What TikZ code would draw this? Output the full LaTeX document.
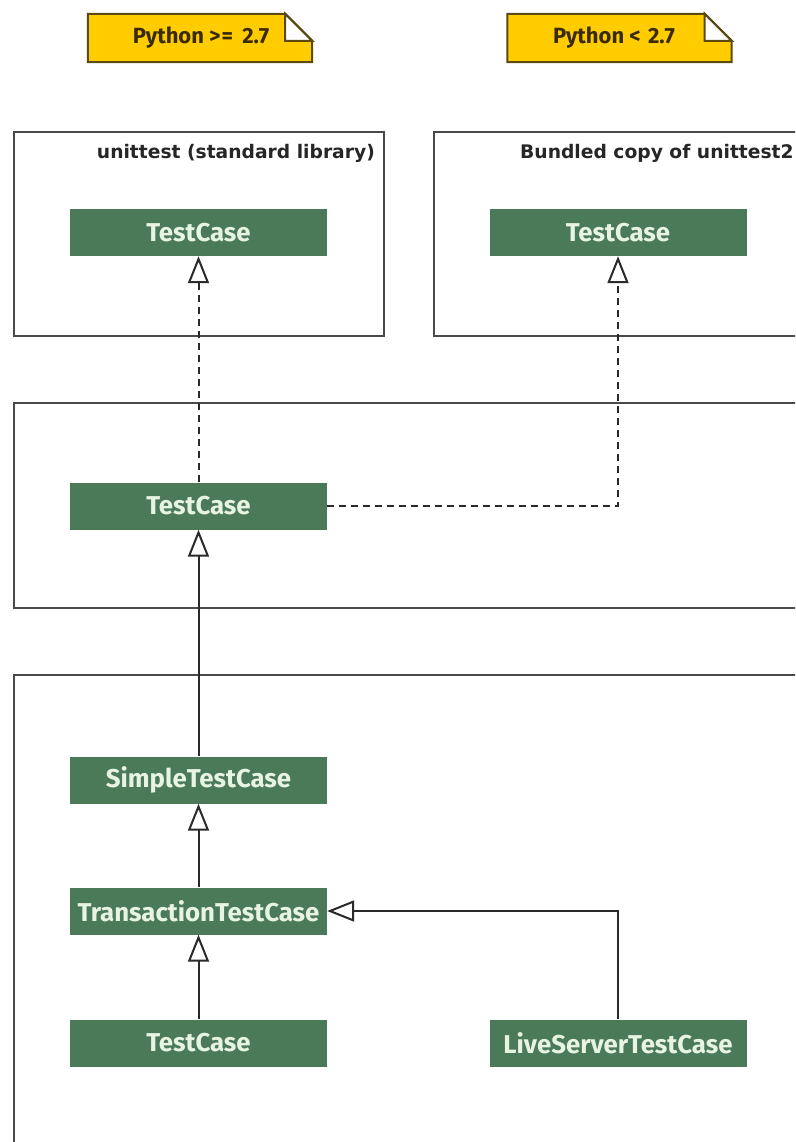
\documentclass[tikz,border=0pt]{standalone}
\usepackage{fontspec}
\usetikzlibrary{arrows.meta}
\newfontfamily\classfont{Fira Sans}[UprightFont=* Bold]
\newfontfamily\titlefont{DejaVu Sans}[UprightFont=* Bold]
\definecolor{umlgreen}{HTML}{4A7A58}
\definecolor{umltext}{HTML}{E8F4E2}
\definecolor{notefill}{HTML}{FFCC00}
\definecolor{noteline}{HTML}{5A4A12}
\definecolor{notetext}{HTML}{3A2A05}
\definecolor{frameline}{HTML}{4A4A4A}
\definecolor{linkline}{HTML}{2A2A2A}
\tikzset{
  umlclass/.style={rectangle, fill=umlgreen, text=umltext, minimum width=257pt,
    minimum height=47pt, inner sep=0pt, font=\classfont\fontsize{25.8}{30}\selectfont},
  notebox/.style={rectangle, minimum width=224pt, minimum height=48pt, inner sep=0pt,
    text=notetext, font=\classfont\fontsize{22}{26}\selectfont},
  noteshape/.style={draw=noteline, fill=notefill, line width=2pt, line join=miter},
  pkgframe/.style={draw=frameline, line width=2.2pt},
  pkgtitle/.style={text=black!85, inner sep=0pt, font=\titlefont\fontsize{18.7}{22}\selectfont},
  realize/.style={draw=linkline, line width=2pt, dash pattern=on 7pt off 5pt,
    -{Triangle[open, length=27pt, width=21pt, line width=2pt]}},
  inherit/.style={draw=linkline, line width=2pt,
    -{Triangle[open, length=27pt, width=21pt, line width=2pt]}},
}
\begin{document}
\begin{tikzpicture}[x=1pt, y=-1pt]
\clip (0,0) rectangle (795,1142);
\fill[white] (0,0) rectangle (795,1142);

% package frames
\draw[pkgframe] (14,132) rectangle (384,336);
\draw[pkgframe] (434,132) rectangle (812,336);
\draw[pkgframe] (14,403) rectangle (812,608);
\draw[pkgframe] (14,675) rectangle (812,1160);

\node[pkgtitle, anchor=east] (t1) at (375,153) {unittest (standard library)};
\node[pkgtitle, anchor=west] (t2) at (520,153) {Bundled copy of unittest2};

% version notes with folded corner
\node[notebox] (n1) at (200,38) {};
\draw[noteshape] (n1.south west) -- (n1.north west) -- ([xshift=-27pt]n1.north east)
  -- ([yshift=-27pt]n1.north east) -- (n1.south east) -- cycle;
\draw[noteshape, fill=white] ([xshift=-27pt]n1.north east) -- ([xshift=-27pt,yshift=-27pt]n1.north east)
  -- ([yshift=-27pt]n1.north east) -- cycle;
\node[notebox, minimum width=0pt] (n1t) at (201,38) {Python >\kern1pt= \kern4pt2.7};

\node[notebox] (n2) at (619.5,38) {};
\draw[noteshape] (n2.south west) -- (n2.north west) -- ([xshift=-27pt]n2.north east)
  -- ([yshift=-27pt]n2.north east) -- (n2.south east) -- cycle;
\draw[noteshape, fill=white] ([xshift=-27pt]n2.north east) -- ([xshift=-27pt,yshift=-27pt]n2.north east)
  -- ([yshift=-27pt]n2.north east) -- cycle;
\node[notebox, minimum width=0pt] (n2t) at (614,38) {Python < \kern2pt2.7};

% classes
\node[umlclass] (tcstd) at (198.5,232.5) {TestCase};
\node[umlclass] (tcbun) at (618,232.5) {TestCase};
\node[umlclass] (tcmid) at (198.5,506) {TestCase};
\node[umlclass] (simple) at (198.5,780) {SimpleTestCase};
\node[umlclass] (trans) at (198.5,911) {TransactionTestCase};
\node[umlclass] (tcbot) at (198.5,1043) {TestCase};
\node[umlclass] (live) at (618,1043) {LiveServerTestCase};

% relations
\draw[realize] (tcmid.north) -- (tcstd.south);
\draw[realize] (tcmid.east) -| (tcbun.south);
\draw[inherit] (simple.north) -- (tcmid.south);
\draw[inherit] (trans.north) -- (simple.south);
\draw[inherit] (tcbot.north) -- (trans.south);
\draw[inherit] (live.north) |- (trans.east);
\end{tikzpicture}
\end{document}
